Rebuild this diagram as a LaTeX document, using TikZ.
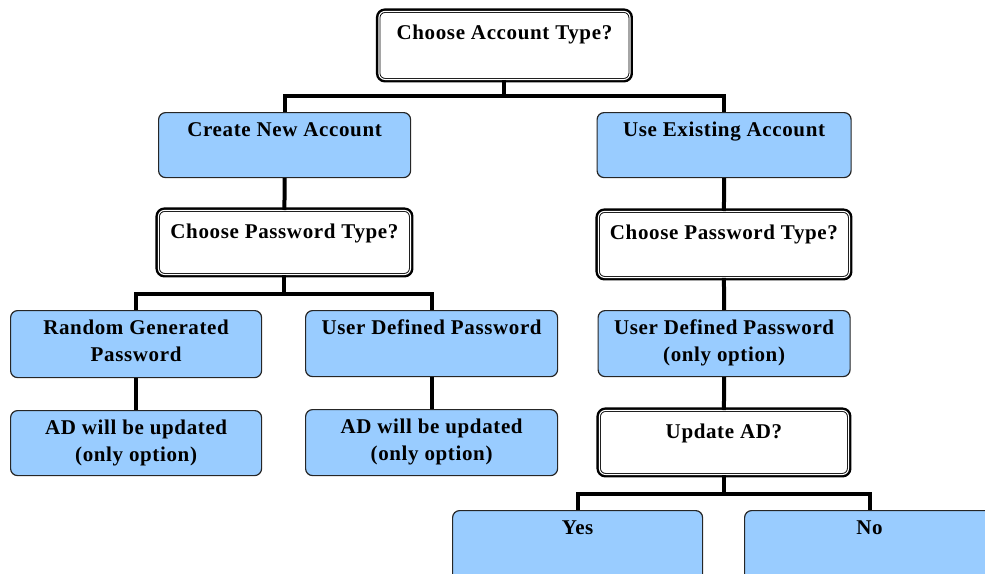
\documentclass[tikz,border=0pt]{standalone}
\usepackage{fontspec}
\setmainfont{Liberation Serif}[LetterSpace=3]
\definecolor{boxblue}{RGB}{153,204,255}
\begin{document}
\begin{tikzpicture}[x=1pt,y=-1pt,
  conn/.style={line width=4pt},
  bluebox/.style={draw=black!85, line width=1.2pt, fill=boxblue, rounded corners=7pt, inner sep=0pt, anchor=north west},
  decbox/.style={fill=white, preaction={draw=black, line width=6pt}, draw=black, line width=0.9pt, double=white, double distance=1.1pt, rounded corners=6pt, inner sep=0pt, anchor=north west},
  txt/.style={font=\bfseries\fontsize{21}{27}\selectfont, anchor=base, inner sep=0pt},
  btxt/.style={txt, yshift=-24pt},
  dtxt/.style={txt, yshift=-28pt}]
\useasboundingbox (0,0) rectangle (985,573);

% decision boxes
\node[decbox, minimum width=251, minimum height=68, label={[dtxt]north:Choose Account Type?}] (cat) at (378.5,11) {};
\node[decbox, minimum width=252, minimum height=64, label={[dtxt]north:Choose Password Type?}] (cpt1) at (158,210) {};
\node[decbox, minimum width=251, minimum height=66, label={[dtxt]north:Choose Password Type?}] (cpt2) at (598,211) {};
\node[decbox, minimum width=249, minimum height=64, label={[dtxt]north:Update AD?}] (uad) at (599,410) {};

% blue boxes
\node[bluebox, minimum width=252, minimum height=65, label={[btxt]north:Create New Account}] (cna) at (158,112) {};
\node[bluebox, minimum width=254, minimum height=65, label={[btxt]north:Use Existing Account}] (uea) at (596.5,112) {};
\node[bluebox, minimum width=251, minimum height=67, label={[btxt]north:\begin{tabular}[t]{@{}c@{}}Random Generated\\Password\end{tabular}}] (rgp) at (10,310) {};
\node[bluebox, minimum width=252, minimum height=66, label={[btxt]north:User Defined Password}] (udp1) at (305,310) {};
\node[bluebox, minimum width=252, minimum height=66, label={[btxt]north:\begin{tabular}[t]{@{}c@{}}User Defined Password\\(only option)\end{tabular}}] (udp2) at (597.5,310) {};
\node[bluebox, minimum width=251, minimum height=65, label={[btxt]north:\begin{tabular}[t]{@{}c@{}}AD will be updated\\(only option)\end{tabular}}] (ad1) at (10,410) {};
\node[bluebox, minimum width=252, minimum height=66, label={[btxt]north:\begin{tabular}[t]{@{}c@{}}AD will be updated\\(only option)\end{tabular}}] (ad2) at (305,409) {};
\node[bluebox, minimum width=250, minimum height=80, label={[btxt]north:Yes}] (yes) at (452,510) {};
\node[bluebox, minimum width=250, minimum height=80, label={[btxt]north:No}] (no) at (744,510) {};

% junction coordinates
\coordinate (j1) at (504,96);
\coordinate (j2) at (284,294);
\coordinate (j3) at (723.5,494);

% connectors
\draw[conn] (cat.south) -- (cat.south |- j1);
\draw[conn] (cna.north) |- (uea.north |- j1) -- (uea.north);
\draw[conn] (cna.south) -- (cpt1.north);
\draw[conn] (cpt1.south) -- (cpt1.south |- j2);
\draw[conn] (rgp.north) |- (udp1.north |- j2) -- (udp1.north);
\draw[conn] (rgp.south) -- (ad1.north);
\draw[conn] (udp1.south) -- (ad2.north);
\draw[conn] (uea.south) -- (cpt2.north);
\draw[conn] (cpt2.south) -- (udp2.north);
\draw[conn] (udp2.south) -- (uad.north);
\draw[conn] (uad.south) -- (uad.south |- j3);
\draw[conn] (yes.north) |- (no.north |- j3) -- (no.north);
\end{tikzpicture}
\end{document}
